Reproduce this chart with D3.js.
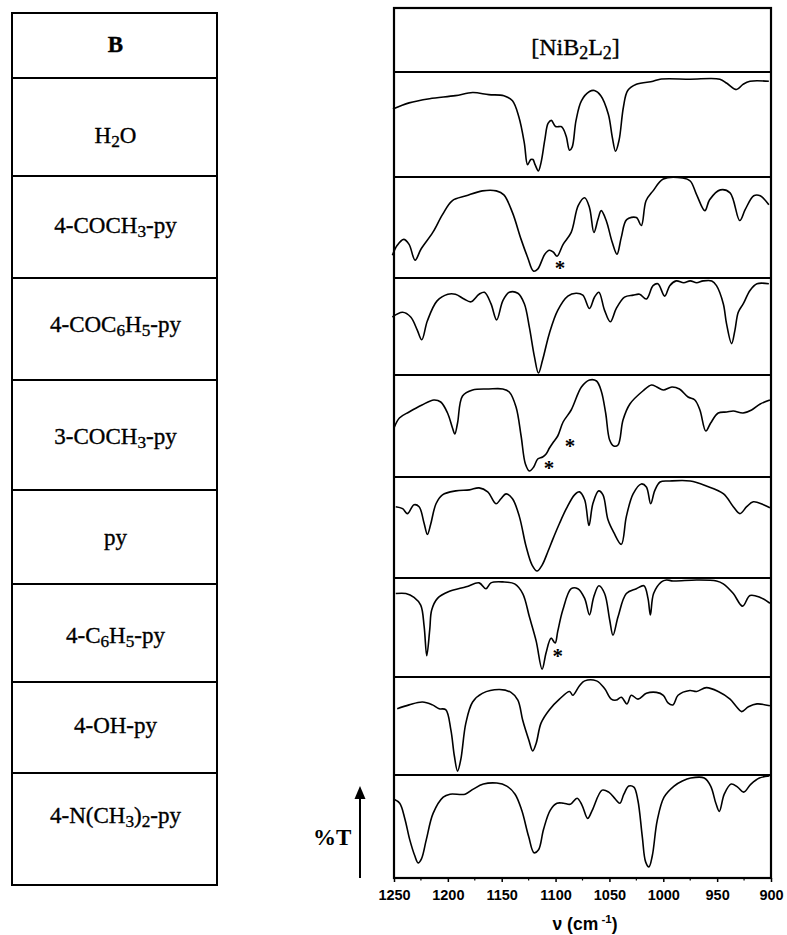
<!DOCTYPE html>
<html><head><meta charset="utf-8">
<script src="https://cdn.jsdelivr.net/npm/d3@7"></script>
<style>html,body{margin:0;padding:0;background:#fff;}</style>
</head><body>
<script>
// ---------------- DATA ----------------
const headerLeft = "B";
const headerRight = "[NiB_2L_2]";
const bases = ["H_2O","4-COCH_3-py","4-COC_6H_5-py","3-COCH_3-py","py","4-C_6H_5-py","4-OH-py","4-N(CH_3)_2-py"];
const waveTicks = [1250,1200,1150,1100,1050,1000,950,900];
const yLabel = "%T";

// spectra: [wavenumber (cm-1), relative transmittance 0..100 within panel]
const specH2O = [[1251,65],[1236,71],[1217,75],[1193,78],[1177,81],[1162,79],[1148,78],[1140,73],[1134,57],[1129,32],[1126,11],[1123,16],[1121,16],[1119,11],[1116,5],[1113.5,13],[1110,35],[1107,51],[1104,54],[1100,48],[1095,48],[1093,46],[1090,38],[1087,25],[1084.6,28],[1081,54],[1076,73],[1068.5,82],[1064,83],[1058,78],[1051,60],[1047.4,38],[1044.3,24],[1041,35],[1037,67],[1033,83],[1025,89],[1009.5,92],[1003,94],[975,94],[947.5,94],[941,90],[932,84],[926,89],[919.5,92],[902,92]];
const spec4COCH3 = [[1251.5,22],[1247,32],[1241,38],[1236,33],[1230.4,17],[1225,28],[1214,45],[1205,63],[1196,77],[1183,82],[1168,87],[1155,87],[1148,83],[1140,65],[1132,38],[1126,20],[1120.6,6],[1116.6,8],[1110,23],[1105.7,27],[1102,25],[1098.6,21],[1093,33],[1085.5,45],[1079,72],[1073,80],[1068.5,70],[1064.4,45],[1060.7,58],[1057.6,67],[1053,57],[1047.4,35],[1043,23],[1039,40],[1034,58],[1025,60],[1020.4,52],[1016,77],[1009.5,87],[1000,99],[982,100],[975,97],[969,83],[961.4,67],[957,78],[947,88],[938,85],[929,57],[924,68],[916,82],[910,82],[902,73]];
const spec4COC6H5 = [[1251.5,60],[1242,65],[1234.5,60],[1228.3,46],[1224.2,36],[1219,56],[1210,77],[1200,84],[1193,84],[1185,79],[1178.6,76],[1171,84],[1166,86],[1160,74],[1154.7,57],[1149,77],[1143,86],[1135,85],[1129,74],[1124.3,49],[1119.6,18],[1115.9,1],[1112,15],[1105.7,43],[1098,67],[1088.6,82],[1081,85],[1074.7,83],[1068.5,69],[1063.8,81],[1059.8,86],[1054.5,67],[1049.2,55],[1043.6,69],[1036,81],[1028,83],[1022,84],[1015.7,79],[1009.5,93],[1005,95],[998.7,82],[994,93],[988,98],[981,96],[975,98],[969,96],[963,98],[955,98],[950.6,93],[944.3,74],[941.3,53],[936.6,32],[933.5,46],[930.4,65],[925.7,74],[919.5,88],[913,95],[902,95]];
const spec3COCH3 = [[1250,48],[1245,58],[1236,64],[1224,71],[1213,76],[1206.6,74],[1200.3,63],[1195.7,48],[1193.5,42],[1191,53],[1186.4,80],[1177,86],[1162,87],[1149,87],[1143,84],[1136.7,69],[1132,40],[1128,12],[1124.3,5],[1120.3,9],[1116.6,17],[1112,19],[1108.8,22],[1105.7,28],[1102,34],[1098,40],[1093,54],[1085.5,66],[1076,89],[1068.5,96],[1062,95],[1057.6,85],[1053.5,63],[1049.8,36],[1046,30],[1042,31],[1037.4,56],[1031,72],[1019,85],[1011,91],[1006,89],[1000,86],[992,89],[985,87],[977,79],[970.7,76],[966,66],[960.5,45],[956,53],[949,63],[941,64],[935,65],[926,63],[918,66],[910,72],[901,76]];
const specPy = [[1248.4,71],[1242,69],[1237.6,64],[1231.4,73],[1226.7,71],[1222,54],[1219,43],[1216,53],[1211,74],[1205,83],[1192.6,87],[1180,88],[1171,90],[1163,86],[1155.3,74],[1150.7,79],[1146,84],[1140,79],[1133.6,61],[1127.4,31],[1121.8,12],[1117.2,6],[1112.5,12],[1107,26],[1102.6,38],[1096.4,54],[1090,69],[1082.4,83],[1077.8,86],[1073,78],[1069,52],[1065.4,74],[1060,87],[1056,83],[1051.4,58],[1046,45],[1039,33],[1034.3,61],[1028,84],[1020.4,94],[1015.7,91],[1011.7,74],[1008,87],[1003,96],[994,97],[975,97],[960,92],[944,84],[935,71],[928.8,64],[922.6,71],[916.4,76],[907,73],[901,70]];
const spec4C6H5 = [[1248.4,85],[1239,85],[1231.4,81],[1225.2,73],[1222,51],[1219.6,21],[1216.8,48],[1215,68],[1209.6,80],[1199,87],[1183,92],[1171,96],[1164.6,90],[1160,96],[1149,97],[1138,95],[1130.5,85],[1124.3,61],[1118,36],[1112.5,7],[1108.8,24],[1104.2,39],[1100.4,34],[1098,46],[1093.3,68],[1085.5,90],[1079.3,90],[1073,80],[1068.5,63],[1064.7,81],[1059.8,93],[1054.5,85],[1049.8,58],[1046.7,42],[1042,61],[1034.3,85],[1025,90],[1018,93],[1014.2,80],[1012,63],[1009,85],[1001.7,97],[997,99],[991,98],[969,99],[950.6,98],[944.3,95],[935,85],[926.4,72],[919.5,83],[910,81],[901,75]];
const spec4OH = [[1247,68],[1236,72],[1223.6,75],[1214.3,72],[1208,68],[1202,67],[1197.2,46],[1194,19],[1191,3],[1188,15],[1183.3,53],[1177,75],[1168,84],[1152,88],[1141.4,85],[1135,77],[1130.5,56],[1125,36],[1121.2,24],[1118,32],[1113.5,53],[1105.7,67],[1096.4,78],[1087,86],[1084,82],[1077.8,92],[1073,97],[1062,97],[1054.5,89],[1048.3,78],[1043.6,77],[1039,80],[1033.7,73],[1029.7,82],[1023.5,78],[1015.7,84],[1006.4,85],[1000,82],[995.6,74],[991,72],[986.3,82],[975.4,87],[969,86],[960,90],[949,86],[938,78],[932,70],[927.3,65],[921,70],[913,73],[901,71]];
const spec4NMe2 = [[1250,77],[1244.7,73],[1240,58],[1235.4,37],[1230.7,21],[1227.6,14],[1224.5,18],[1220,37],[1213.7,63],[1204.3,79],[1198,82],[1184,82],[1176.4,87],[1167,92],[1154.6,93],[1145.3,90],[1137.6,82],[1131.4,66],[1125,40],[1120,24],[1115.8,27],[1111.2,47],[1105,66],[1098.7,73],[1092.5,73],[1086.3,72],[1080,78],[1075.4,71],[1070.2,58],[1066,66],[1056.8,86],[1050.6,84],[1044.4,77],[1040.3,73],[1036.6,82],[1032,90],[1027.3,89],[1023.6,76],[1019.5,40],[1016.4,15],[1013.3,10],[1010.2,21],[1005.6,56],[999.3,79],[990,90],[982.3,95],[974.5,98],[962,98],[956,90],[951.2,73],[948,65],[943.4,82],[937,92],[931,89],[925.4,84],[918.6,92],[910.8,98],[901.5,100]];
const spectra = [specH2O, spec4COCH3, spec4COC6H5, spec3COCH3, specPy, spec4C6H5, spec4OH, spec4NMe2];

// asterisk marks: [panel index, wavenumber, relative transmittance]
const asterisks = [[1,1096,12],[3,1106,11],[3,1086.5,33],[5,1098,24]];

// ---------------- LAYOUT ----------------
const W = 787, H = 935;
const leftX0 = 12, leftX1 = 217;
const leftRows = [13,78,176,278,380,490,584,682,773,885];
const labelBaselines = [52,143,233,332,444,545,643,733,823];
const rightX0 = 394, rightX1 = 771;
const rightTop = 8;
const panelEdges = [72,177,278,375,477,578,677,775,878];
const serif = "'Liberation Serif','Times New Roman',serif";
const sans = "'Liberation Sans',Arial,sans-serif";

const svg = d3.select("body").append("svg").attr("width", W).attr("height", H);
svg.append("rect").attr("width", W).attr("height", H).attr("fill", "#fff");

function rich(sel, s, size) {
  const parts = s.split(/(_.)/).filter(p => p.length);
  let off = 0;
  parts.forEach(p => {
    if (p[0] === "_") {
      const d = size * 0.16;
      sel.append("tspan").attr("dy", d - off).attr("font-size", size * 0.75).text(p[1]);
      off = d;
    } else {
      sel.append("tspan").attr("dy", -off).attr("font-size", size).text(p);
      off = 0;
    }
  });
}

// ---- left table ----
const lt = svg.append("g");
lt.append("rect").attr("x", leftX0).attr("y", leftRows[0])
  .attr("width", leftX1 - leftX0).attr("height", leftRows[leftRows.length-1] - leftRows[0])
  .attr("fill", "none").attr("stroke", "#000").attr("stroke-width", 2);
leftRows.slice(1, -1).forEach(yv => {
  lt.append("line").attr("x1", leftX0).attr("x2", leftX1).attr("y1", yv).attr("y2", yv)
    .attr("stroke", "#000").attr("stroke-width", 2);
});
const cx = (leftX0 + leftX1) / 2 + 1;
const labels = [headerLeft].concat(bases);
labels.forEach((s, i) => {
  const t = lt.append("text").attr("x", cx).attr("y", labelBaselines[i])
    .attr("text-anchor", "middle").attr("font-family", serif).attr("fill", "#000")
    .attr("stroke", "#000").attr("stroke-width", 0.35)
    .attr("font-weight", i === 0 ? "bold" : "normal");
  rich(t, s, 23);
});

// ---- right panel ----
const x = d3.scaleLinear().domain([1250, 900]).range([rightX0, rightX1]);
const rg = svg.append("g");
rg.append("rect").attr("x", rightX0).attr("y", rightTop)
  .attr("width", rightX1 - rightX0).attr("height", panelEdges[panelEdges.length-1] - rightTop)
  .attr("fill", "none").attr("stroke", "#000").attr("stroke-width", 2.2);
panelEdges.slice(0, -1).forEach(yv => {
  rg.append("line").attr("x1", rightX0).attr("x2", rightX1).attr("y1", yv).attr("y2", yv)
    .attr("stroke", "#000").attr("stroke-width", 2.2);
});
const ht = rg.append("text").attr("x", (rightX0 + rightX1) / 2 - 7).attr("y", 55)
  .attr("text-anchor", "middle").attr("font-family", serif).attr("fill", "#000")
  .attr("stroke", "#000").attr("stroke-width", 0.35);
rich(ht, headerRight, 24);

spectra.forEach((data, i) => {
  const y = d3.scaleLinear().domain([0, 100]).range([panelEdges[i+1] - 1, panelEdges[i] + 1]);
  const line = d3.line().x(d => x(d[0])).y(d => y(d[1])).curve(d3.curveCatmullRom.alpha(0.5));
  rg.append("path").datum(data).attr("d", line).attr("fill", "none")
    .attr("stroke", "#000").attr("stroke-width", 1.6).attr("stroke-linejoin", "round");
});

asterisks.forEach(([p, wn, t]) => {
  const y = d3.scaleLinear().domain([0, 100]).range([panelEdges[p+1] - 1, panelEdges[p] + 1]);
  rg.append("text").attr("x", x(wn)).attr("y", y(t) + 10).attr("text-anchor", "middle")
    .attr("font-family", serif).attr("font-weight", "bold").attr("font-size", 21).text("*");
});

// ---- x axis ----
const axisY = panelEdges[panelEdges.length-1];
const ax = svg.append("g").attr("transform", `translate(0,${axisY})`)
  .call(d3.axisBottom(x).tickValues(waveTicks).tickSize(4).tickPadding(8).tickFormat(d3.format("d")));
ax.select(".domain").remove();
ax.selectAll(".tick line").attr("stroke", "#000").attr("stroke-width", 1.5);
ax.selectAll("text").attr("font-family", sans).attr("font-weight", "bold").attr("font-size", 14.5).attr("fill", "#000");
const minor = d3.range(1225, 900, -50);
svg.append("g").selectAll("line").data(minor).join("line")
  .attr("x1", d => x(d)).attr("x2", d => x(d)).attr("y1", axisY).attr("y2", axisY + 2.5)
  .attr("stroke", "#000").attr("stroke-width", 1.2);

const xt = svg.append("text").attr("x", 585).attr("y", 930).attr("text-anchor", "middle")
  .attr("font-family", sans).attr("font-weight", "bold").attr("font-size", 17.5).attr("fill", "#000");
xt.append("tspan").text("ν (cm");
xt.append("tspan").attr("dy", -7).attr("font-size", 11.5).text(" -1");
xt.append("tspan").attr("dy", 7).text(")");

// ---- %T with arrow ----
svg.append("text").attr("x", 313).attr("y", 845).attr("font-family", serif)
  .attr("font-weight", "bold").attr("font-size", 23).attr("fill", "#000").text(yLabel);
svg.append("line").attr("x1", 360).attr("x2", 360).attr("y1", 878).attr("y2", 796)
  .attr("stroke", "#000").attr("stroke-width", 2);
svg.append("path").attr("d", "M360,786 L354.5,799 L365.5,799 Z").attr("fill", "#000");
</script>
</body></html>
